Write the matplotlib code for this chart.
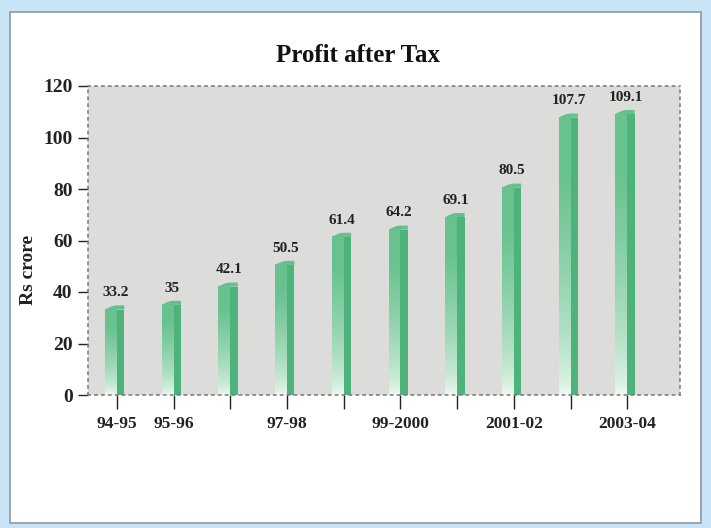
import matplotlib

matplotlib.use("Agg")
import matplotlib.pyplot as plt
import numpy as np
from matplotlib.colors import to_rgba
from matplotlib.patches import Polygon, Rectangle

years = ["94-95", "95-96", "96-97", "97-98", "98-99",
         "99-2000", "2000-01", "2001-02", "2002-03", "2003-04"]
shown_labels = ["94-95", "95-96", "", "97-98", "",
                "99-2000", "", "2001-02", "", "2003-04"]
profit = [33.2, 35, 42.1, 50.5, 61.4, 64.2, 69.1, 80.5, 107.7, 109.1]
value_labels = ["33.2", "35", "42.1", "50.5", "61.4",
                "64.2", "69.1", "80.5", "107.7", "109.1"]
y_ticks = [0, 20, 40, 60, 80, 100, 120]

SERIF = ["Liberation Serif", "DejaVu Serif"]
plt.rcParams["font.family"] = SERIF
plt.rcParams["font.weight"] = "bold"

fig = plt.figure(figsize=(7.11, 5.28), dpi=100)
fig.patch.set_facecolor("#c9e4f6")

# white inner panel
fig.patches.append(Rectangle((10 / 711, 5 / 528), 691 / 711, 511 / 528,
                             transform=fig.transFigure, facecolor="white",
                             edgecolor="#8a9aa8", linewidth=1.2, zorder=-5))

ax = fig.add_axes([88 / 711, 1 - 395 / 528, 592 / 711, 309 / 528])
ax.set_facecolor("#dcdcda")

left_w = 0.21   # lighter, gradient part left of the tick
right_w = 0.13  # darker stripe right of the tick
light = np.array(to_rgba("#f3fbf5"))
mid = np.array(to_rgba("#68c28f"))
dark = "#4db37b"

for i, v in enumerate(profit):
    x0 = i - left_w
    x1 = i + right_w
    t = np.clip(np.linspace(0, 1, 200) * 1.25, 0, 1) ** 0.6
    grad = light + (mid - light) * t[:, None]
    ax.imshow(grad[:, None, :], extent=(x0, i, 0, v), origin="lower",
              aspect="auto", zorder=2, interpolation="bilinear")
    ax.add_patch(Rectangle((i, 0), x1 - i, v, facecolor=dark,
                           edgecolor="none", zorder=2))
    # slanted rounded top
    cap_x = np.linspace(x0, x1, 20)
    s = (cap_x - x0) / (x1 - x0)
    cap_y = v + 1.6 * np.sin(np.clip(s * 1.6, 0, 1) * np.pi / 2)
    pts = np.column_stack([np.r_[x0, cap_x, x1], np.r_[v, cap_y, v]])
    ax.add_patch(Polygon(pts, closed=True, facecolor="#66c08d",
                         edgecolor="none", zorder=3))
    ax.text(i - 0.03, v + 4.0, value_labels[i], ha="center", va="bottom",
            fontsize=11, fontweight="bold", color="#222222", zorder=4)

ax.set_xlim(-0.51, 9.93)
ax.set_ylim(0, 120)
ax.set_yticks(y_ticks)
ax.set_yticklabels([str(t) for t in y_ticks], fontsize=14, fontweight="bold")
ax.set_xticks(range(len(years)))
ax.set_xticklabels(shown_labels, fontsize=12.5, fontweight="bold")
ax.tick_params(axis="y", direction="out", length=7, width=1, pad=4, colors="#222222")
ax.tick_params(axis="x", direction="out", length=10, width=1, pad=5, colors="#222222")

for side in ["top", "bottom", "left", "right"]:
    ax.spines[side].set_linestyle((0, (1.5, 3)))
    ax.spines[side].set_color("#777777")
    ax.spines[side].set_linewidth(1.1)

fig.text(29 / 711, 1 - 270 / 528, "Rs crore", rotation=90, ha="center",
         va="center", fontsize=14, fontweight="bold", color="#222222")
fig.text(0.504, 1 - 55 / 528, "Profit after Tax", ha="center", va="center",
         fontsize=18, fontweight="bold", color="#111111")

fig.savefig("out.png", dpi=100, facecolor=fig.get_facecolor())
